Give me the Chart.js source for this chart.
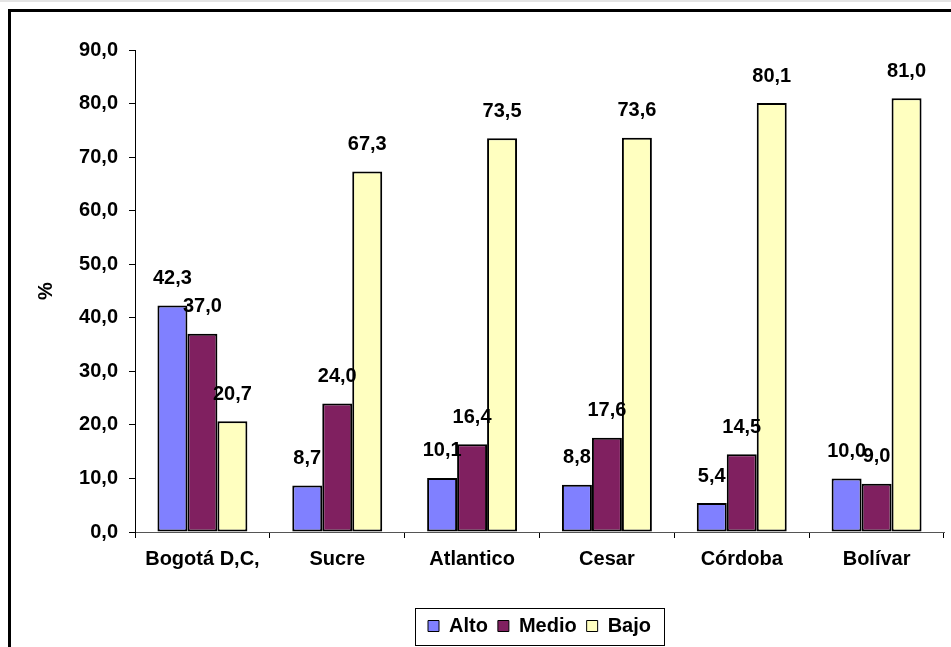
<!DOCTYPE html>
<html>
<head>
<meta charset="utf-8">
<script src="https://cdn.jsdelivr.net/npm/chart.js@4/dist/chart.umd.min.js"></script>
<style>
  html, body { margin: 0; padding: 0; background: #fff; overflow: hidden; }
  #topline { position: absolute; left: 0; top: 0; width: 951px; height: 2px; background: #e4e4e4; }
  #frame { position: absolute; left: 8px; top: 9px; width: 1000px; height: 700px; border: 3px solid #000; }
  #chart { position: absolute; left: 0; top: 0; }
</style>
</head>
<body>
<div id="topline"></div>
<div id="frame"></div>
<canvas id="chart" width="951" height="647"></canvas>
<script>
// values
const categories = ['Bogotá D,C,', 'Sucre', 'Atlantico', 'Cesar', 'Córdoba', 'Bolívar'];
const alto  = [42.3, 8.7, 10.1, 8.8, 5.4, 10.0];
const medio = [37.0, 24.0, 16.4, 17.6, 14.5, 9.0];
const bajo  = [20.7, 67.3, 73.5, 73.6, 80.1, 81.0];
const yTicks = [0, 10, 20, 30, 40, 50, 60, 70, 80, 90];

const FONT = 'Liberation Sans, Arial, sans-serif';
const SIZE = 20;
const fmt = v => v.toFixed(1).replace('.', ',');

// labels above each bar
const valueLabels = {
  id: 'valueLabels',
  afterDatasetsDraw(chart) {
    const ctx = chart.ctx;
    ctx.save();
    ctx.font = 'bold ' + SIZE + 'px ' + FONT;
    ctx.fillStyle = '#000';
    ctx.textAlign = 'center';
    ctx.textBaseline = 'middle';
    chart.data.datasets.forEach((ds, i) => {
      chart.getDatasetMeta(i).data.forEach((bar, j) => {
        ctx.fillText(fmt(ds.data[j]), bar.x, bar.y - 27);
      });
    });
    ctx.restore();
  }
};

// centre the legend under the plot and draw a border round it
const legendBox = {
  id: 'legendBox',
  afterLayout(chart) {
    const l = chart.legend;
    const w = l.right - l.left;
    const c = (chart.chartArea.left + chart.chartArea.right) / 2;
    l.left = c - w / 2;
    l.right = c + w / 2;
    l.adjustHitBoxes();
  },
  afterDraw(chart) {
    const boxes = chart.legend.legendHitBoxes;
    if (!boxes || !boxes.length) return;
    const first = boxes[0], last = boxes[boxes.length - 1];
    const ctx = chart.ctx;
    ctx.save();
    ctx.strokeStyle = '#000';
    ctx.lineWidth = 1;
    const x0 = first.left - 13, x1 = last.left + last.width + 13;
    const y0 = chart.legend.top + 2, y1 = chart.legend.bottom - 1;
    ctx.strokeRect(Math.round(x0) + 0.5, Math.round(y0) + 0.5, Math.round(x1 - x0), Math.round(y1 - y0));
    ctx.restore();
  }
};

const ds = (label, data, color) => ({
  label: label,
  data: data,
  backgroundColor: color,
  borderColor: '#000',
  borderWidth: 2,
  borderSkipped: false,
  categoryPercentage: 0.667,
  barPercentage: 1.0
});

new Chart(document.getElementById('chart').getContext('2d'), {
  type: 'bar',
  data: {
    labels: categories,
    datasets: [
      ds('Alto', alto, '#8080ff'),
      ds('Medio', medio, '#802060'),
      ds('Bajo', bajo, '#ffffc0')
    ]
  },
  options: {
    responsive: false,
    animation: false,
    layout: { padding: { left: 32, right: 7, top: 50, bottom: 1 } },
    plugins: {
      tooltip: { enabled: false },
      legend: {
        position: 'bottom',
        labels: {
          font: { family: FONT, size: SIZE, weight: 'bold' },
          color: '#000',
          boxWidth: 11,
          boxHeight: 11,
          padding: 10,
          generateLabels(chart) {
            return chart.data.datasets.map((d, i) => ({
              text: d.label,
              fillStyle: d.backgroundColor,
              strokeStyle: '#000',
              lineWidth: 1,
              datasetIndex: i
            }));
          }
        }
      }
    },
    scales: {
      x: {
        grid: { display: true, drawOnChartArea: false, tickLength: 6, color: '#000', offset: true },
        border: { color: '#555', width: 1 },
        ticks: {
          font: { family: FONT, size: SIZE, weight: 'bold' },
          color: '#000',
          padding: 9,
          maxRotation: 0
        },
        afterFit(s) { s.height = 74; }
      },
      y: {
        min: 0,
        max: 90,
        afterBuildTicks(s) { s.ticks = yTicks.map(v => ({ value: v })); },
        grid: { display: true, drawOnChartArea: false, tickLength: 6, color: '#000' },
        border: { color: '#000', width: 1 },
        ticks: {
          font: { family: FONT, size: SIZE, weight: 'bold' },
          color: '#000',
          padding: 11,
          callback: v => fmt(v)
        },
        title: {
          display: true,
          text: '%',
          font: { family: FONT, size: SIZE, weight: 'bold' },
          color: '#000',
          padding: 2
        },
        afterFit(s) { s.width = 103; }
      }
    }
  },
  plugins: [valueLabels, legendBox]
});
</script>
</body>
</html>
